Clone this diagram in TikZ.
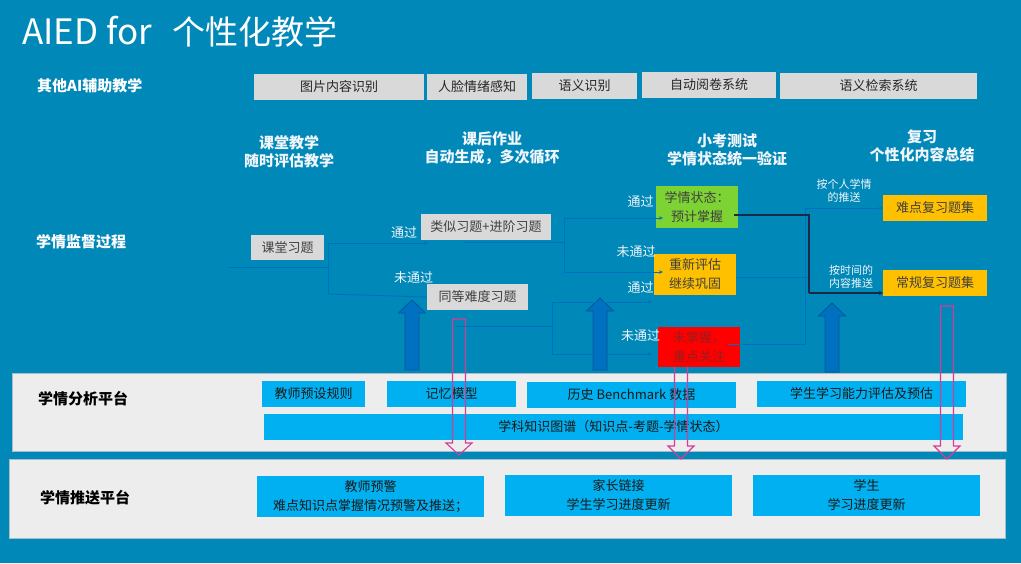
\documentclass[tikz,border=0pt]{standalone}
\usepackage{fontspec}
\setmainfont{Noto Sans CJK SC}
\usetikzlibrary{arrows.meta,calc}
\definecolor{bgblue}{RGB}{0,136,184}
\definecolor{boxgray}{RGB}{217,217,217}
\definecolor{txtgray}{RGB}{64,64,64}
\definecolor{cyanbox}{RGB}{0,176,240}
\definecolor{greenbox}{RGB}{126,211,52}
\definecolor{orangebox}{RGB}{255,192,0}
\definecolor{redbox}{RGB}{255,0,0}
\definecolor{redtxt}{RGB}{150,30,30}
\definecolor{platfill}{RGB}{237,237,237}
\definecolor{platline}{RGB}{169,188,200}
\definecolor{connblue}{RGB}{0,112,192}
\definecolor{conndark}{RGB}{27,42,72}
\definecolor{arrfill}{RGB}{0,112,192}
\definecolor{arrline}{RGB}{0,89,154}
\definecolor{pinkc}{RGB}{214,60,150}
\definecolor{headwhite}{RGB}{240,246,250}
\newcommand\fsz[2]{\fontsize{#1}{#2}\selectfont}
\newcommand\uparr[4]{\filldraw[bigarrow] ({#1-7},#4) -- ({#1-7},#3) -- ({#1-13.5},#3) -- (#1,#2) -- ({#1+13.5},#3) -- ({#1+7},#3) -- ({#1+7},#4) -- cycle;}
\newcommand\pinkarr[4]{\draw[pinkarrow] ({#1-6.5},#2) -- ({#1-6.5},#3) -- ({#1-13},#3) -- (#1,#4) -- ({#1+13},#3) -- ({#1+6.5},#3) -- ({#1+6.5},#2) -- cycle;}
\begin{document}
\begin{tikzpicture}[x=1pt,y=-1pt,
  graybox/.style={fill=boxgray, text=black!85, inner sep=0pt, font=\fsz{13}{16}},
  flowgray/.style={fill=boxgray, text=txtgray, inner sep=0pt, font=\fsz{13}{16}},
  colbox/.style={inner sep=0pt, align=center, font=\fsz{13}{19}, text=txtgray},
  cybox/.style={fill=cyanbox, inner sep=0pt, align=center, text=black!90, font=\fsz{13}{19}},
  plat/.style={fill=platfill, draw=platline, line width=0.8pt},
  header/.style={text=headwhite, font=\bfseries\fsz{15}{18}, align=center, inner sep=0pt},
  lefthead/.style={font=\bfseries\fsz{15}{18}, inner sep=0pt, anchor=west},
  passlbl/.style={text=headwhite, font=\fsz{13}{16}, inner sep=0pt},
  smalllbl/.style={text=headwhite, font=\fsz{11}{13}, align=center, inner sep=0pt},
  conn/.style={draw=connblue, line width=0.9pt},
  connarr/.style={conn, -{Stealth[length=4pt,width=3.5pt]}},
  darkconn/.style={draw=conndark, line width=1.6pt},
  bigarrow/.style={fill=arrfill, draw=arrline, line width=0.8pt},
  pinkarrow/.style={draw=pinkc, line width=1.1pt, line join=miter}
]
\useasboundingbox (0,0) rectangle (1021,563);
\fill[bgblue] (0,0) rectangle (1021,563);

% title
\node[anchor=west, text=white, inner sep=0pt] (title) at (22,32) {{\fsz{35}{38}AIED for}\hspace{20pt}{\fsz{33}{38}个性化教学}};

% row 1
\node[lefthead, text=white] (other) at (37,86) {其他AI辅助教学};
\node[graybox, minimum width=170, minimum height=26] (g1) at (339,87) {图片内容识别};
\node[graybox, minimum width=100, minimum height=26] (g2) at (477,87) {人脸情绪感知};
\node[graybox, minimum width=105, minimum height=26] (g3) at (584.5,86) {语义识别};
\node[graybox, minimum width=134, minimum height=26] (g4) at (709,85) {自动阅卷系统};
\node[graybox, minimum width=197, minimum height=26] (g5) at (878.5,86) {语义检索系统};

% column headers
\node[header] (h1) at (289,152) {课堂教学\\随时评估教学};
\node[header] (h2) at (492,148.5) {课后作业\\自动生成，多次循环};
\node[header] (h3) at (727,150) {小考测试\\学情状态统一验证};
\node[header] (h4) at (922,146) {复习\\个性化内容总结};

\node[lefthead, text=white] (monitor) at (36,242) {学情监督过程};

% platforms
\draw[plat] (12,373) rectangle (1006,451);
\draw[plat] (9,459) rectangle (1005,538);
\node[lefthead, text=black] (ana) at (38,399) {学情分析平台};
\node[lefthead, text=black] (push) at (40,498) {学情推送平台};

\node[cybox, minimum width=103, minimum height=26] (a1) at (313.5,394) {教师预设规则};
\node[cybox, minimum width=129, minimum height=26] (a2) at (451.5,394) {记忆模型};
\node[cybox, minimum width=209, minimum height=26] (a3) at (631.5,395) {历史 Benchmark 数据};
\node[cybox, minimum width=209, minimum height=26] (a4) at (861.5,394) {学生学习能力评估及预估};
\node[cybox, minimum width=699, minimum height=26] (a5) at (613.5,427) {学科知识图谱（知识点-考题-学情状态）};

\node[cybox, minimum width=227, minimum height=41] (b1) at (370.5,496.5) {教师预警\\难点知识点掌握情况预警及推送；};
\node[cybox, minimum width=227, minimum height=41] (b2) at (618.5,495.5) {家长链接\\学生学习进度更新};
\node[cybox, minimum width=227, minimum height=41] (b3) at (866.5,495.5) {学生\\学习进度更新};

% big blue up arrows
\uparr{412}{300}{313}{370}
\uparr{600}{298}{311}{370}
\uparr{832}{303}{316}{372}

% pink hollow down arrows
\pinkarr{459}{319}{443}{455}
\pinkarr{681}{360}{446}{459}
\pinkarr{947}{306}{446}{459}

% flow boxes
\node[flowgray, minimum width=73, minimum height=25] (kt) at (287.5,247.5) {课堂习题};
\node[flowgray, minimum width=130, minimum height=26] (lx) at (486,227) {类似习题+进阶习题};
\node[flowgray, minimum width=101, minimum height=26] (td) at (477.5,297) {同等难度习题};

\node[colbox, fill=greenbox, minimum width=82, minimum height=42] (zt) at (697,207) {学情状态：\\预计掌握};
\node[colbox, fill=orangebox, minimum width=82, minimum height=41] (cx) at (695,274.5) {重新评估\\继续巩固};
\node[colbox, fill=redbox, text=redtxt, minimum width=82, minimum height=40] (wz) at (699,347) {未掌握，\\重点关注};
\node[colbox, fill=orangebox, minimum width=104, minimum height=26] (nd) at (935,208) {难点复习题集};
\node[colbox, fill=orangebox, minimum width=104, minimum height=26] (cg) at (935,283) {常规复习题集};

% coordinates for connectors
\coordinate (s0) at (228,267);
\coordinate (j1) at (328,267);
\coordinate (j1t) at (328,243);
\coordinate (j1b) at (328,294);
\coordinate (e1t) at (428,243);
\coordinate (s2) at (464,242);
\coordinate (j2) at (564,242);
\coordinate (j2t) at (564,218);
\coordinate (j2b) at (564,272);
\coordinate (e2t) at (663,218);
\coordinate (e2b) at (663,272);
\coordinate (s3) at (455,326);
\coordinate (j3) at (552,326);
\coordinate (j3t) at (552,302);
\coordinate (j3b) at (552,354);
\coordinate (e3t) at (652,302);
\coordinate (e3b) at (652,354);
\coordinate (s4) at (734,215);
\coordinate (j4) at (809,215);
\coordinate (j4b) at (809,293);
\coordinate (e4) at (883,293);
\coordinate (s5) at (736,277);
\coordinate (j5) at (809,277);
\coordinate (s6) at (728,344);
\coordinate (j6) at (805,344);
\coordinate (j6t) at (805,208);

% connectors
\draw[conn] (s0) -- (j1);
\draw[conn] (j1t) -- (j1b);
\draw[connarr] (j1t) -- (e1t);
\draw[connarr] (j1b) -- (td.west);
\draw[conn] (s2) -- (j2);
\draw[conn] (j2t) -- (j2b);
\draw[connarr] (j2t) -- (e2t);
\draw[connarr] (j2b) -- (e2b);
\draw[conn] (s3) -- (j3);
\draw[conn] (j3t) -- (j3b);
\draw[connarr] (j3t) -- (e3t);
\draw[connarr] (j3b) -- (e3b);
\draw[conn] (s5) -- (j5);
\draw[conn] (s6) -- (j6) -- (j6t);
\draw[connarr] (j6t) -- (nd.west);
\draw[darkconn] (s4) -- (j4) -- (j4b);
\draw[darkconn, -{Stealth[length=4pt,width=4pt]}] (j4b) -- (e4);

% labels
\node[passlbl] (l1) at (404,233) {通过};
\node[passlbl] (l2) at (413.5,278) {未通过};
\node[passlbl] (l3) at (640.5,202) {通过};
\node[passlbl] (l4) at (636,252) {未通过};
\node[passlbl] (l5) at (640.5,288) {通过};
\node[passlbl] (l6) at (640.5,336) {未通过};
\node[smalllbl] (l7) at (844,190.5) {按个人学情\\的推送};
\node[smalllbl] (l8) at (851,277) {按时间的\\内容推送};
\end{tikzpicture}
\end{document}
